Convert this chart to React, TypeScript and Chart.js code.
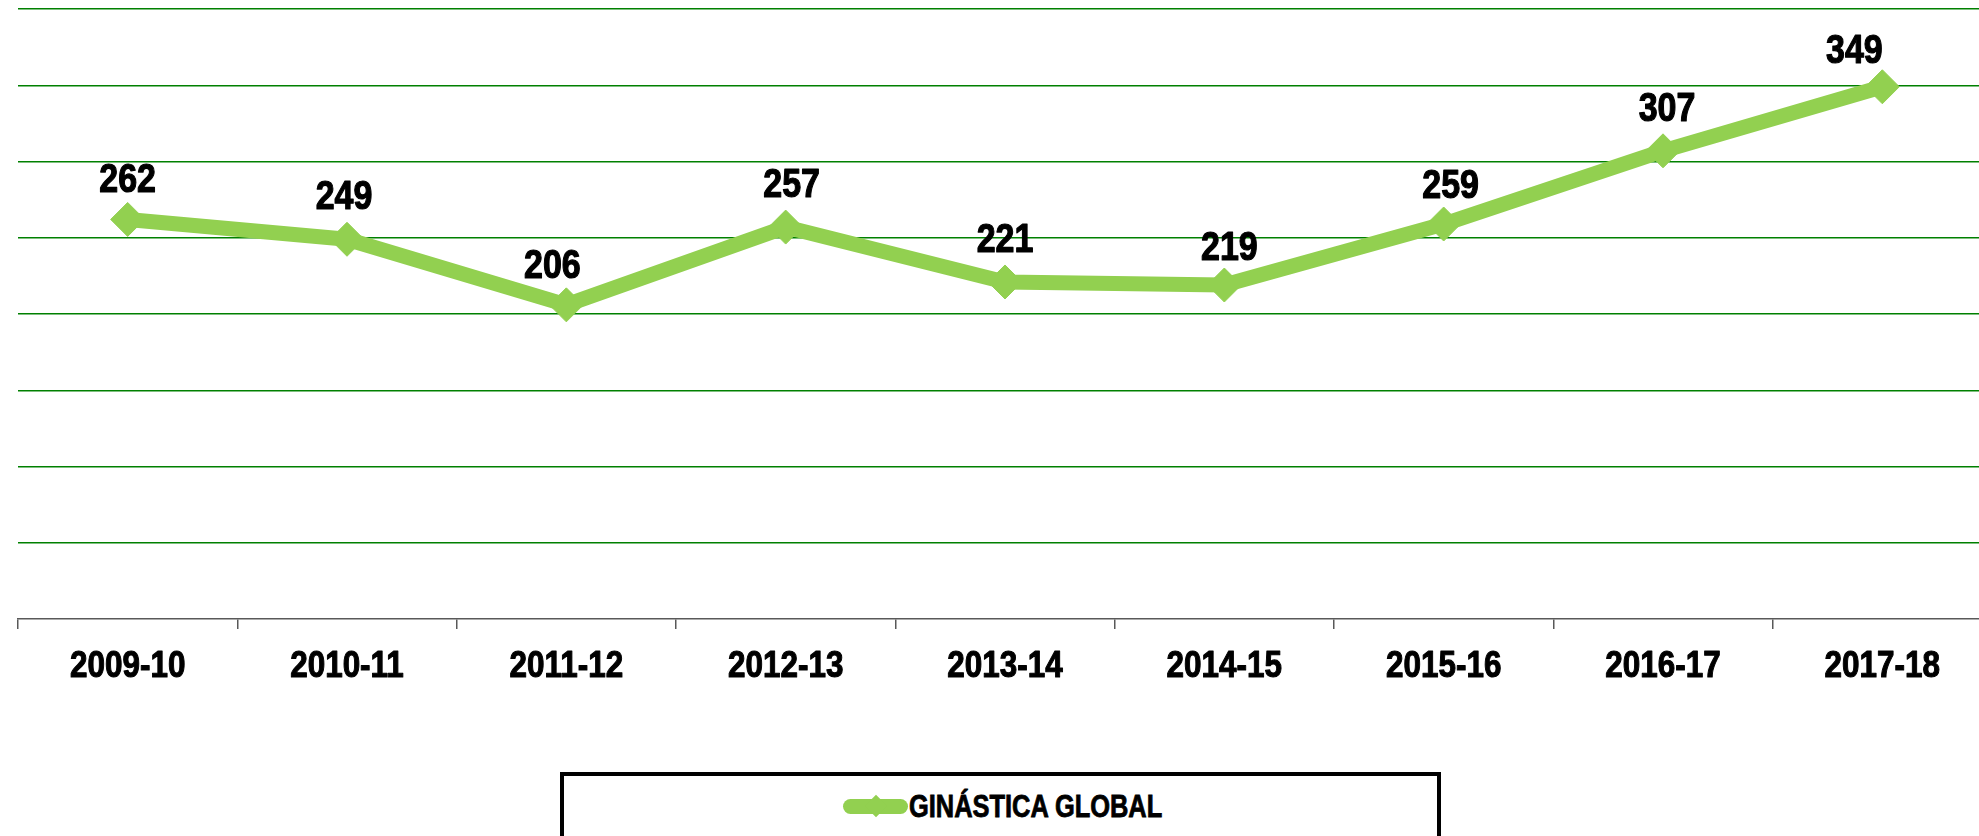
import React, { useEffect, useRef } from "react";
import { Chart, registerables } from "chart.js";

Chart.register(...registerables);

const categories = ["2009-10", "2010-11", "2011-12", "2012-13", "2013-14", "2014-15", "2015-16", "2016-17", "2017-18"];
const values = [262, 249, 206, 257, 221, 219, 259, 307, 349];
const seriesName = "GINÁSTICA GLOBAL";
const yMin = 0;
const yMax = 400;
const yStep = 50;

// small manual nudges of the value labels relative to their points (as placed in the original)
const labelDx = [0, -3, -14, 6, 0, 5, 7, 4, -28];
const labelGap = [27, 30, 27, 30, 30, 25, 26, 30, 24];

const FONT = "'Liberation Sans', Arial, sans-serif";
const LINE_COLOR = "#92D050";
const SQUEEZE = 0.85;

function drawSqueezed(ctx: CanvasRenderingContext2D, text: string, x: number, y: number) {
  ctx.save();
  ctx.translate(x, y);
  ctx.scale(SQUEEZE, 1);
  ctx.strokeText(text, 0, 0);
  ctx.fillText(text, 0, 0);
  ctx.restore();
}

const labelPlugin = {
  id: "valueLabels",
  afterDatasetsDraw(chart: any) {
    const ctx = chart.ctx;
    const meta = chart.getDatasetMeta(0);
    ctx.save();
    ctx.font = `bold 40px ${FONT}`;
    ctx.fillStyle = "#000";
    ctx.strokeStyle = "#000";
    ctx.lineWidth = 1.2;
    ctx.lineJoin = "round";
    ctx.textAlign = "center";
    ctx.textBaseline = "alphabetic";
    meta.data.forEach((pt: any, i: number) => {
      drawSqueezed(ctx, String(values[i]), pt.x + (labelDx[i] || 0), pt.y - (labelGap[i] || 27));
    });
    ctx.restore();
  },
  afterDraw(chart: any) {
    const ctx = chart.ctx;
    const xs = chart.scales.x;
    ctx.save();
    ctx.font = `bold 37px ${FONT}`;
    ctx.fillStyle = "#000";
    ctx.strokeStyle = "#000";
    ctx.lineWidth = 1.1;
    ctx.lineJoin = "round";
    ctx.textAlign = "center";
    ctx.textBaseline = "alphabetic";
    xs.ticks.forEach((t: any, i: number) => {
      const label = xs.getLabelForValue(t.value);
      drawSqueezed(ctx, String(label), xs.getPixelForTick(i), xs.bottom + 48);
    });
    ctx.restore();
  },
};

export default function App() {
  const ref = useRef<HTMLCanvasElement>(null);
  useEffect(() => {
    if (!ref.current) return;
    const chart = new Chart(ref.current, {
      type: "line",
      data: {
        labels: categories,
        datasets: [
          {
            label: seriesName,
            data: values,
            borderColor: LINE_COLOR,
            backgroundColor: LINE_COLOR,
            borderWidth: 15,
            pointStyle: "rectRot",
            pointRadius: 17,
            pointBorderWidth: 1,
            pointBackgroundColor: LINE_COLOR,
            pointBorderColor: LINE_COLOR,
            tension: 0,
            borderJoinStyle: "round",
          },
        ],
      },
      options: {
        responsive: false,
        animation: false,
        layout: { padding: { left: 16, right: 17, top: 0, bottom: 62 } },
        plugins: { legend: { display: false }, tooltip: { enabled: false } },
        scales: {
          x: {
            type: "category",
            offset: true,
            grid: {
              display: true,
              offset: true,
              drawOnChartArea: false,
              drawTicks: true,
              tickLength: 10,
              color: "#595959",
              lineWidth: 1.5,
            },
            border: { display: true, color: "#595959", width: 1.5 },
            ticks: { display: false, autoSkip: false },
          },
          y: {
            min: yMin,
            max: yMax,
            ticks: { display: false, stepSize: yStep },
            grid: {
              drawTicks: false,
              tickLength: 0,
              lineWidth: 1.5,
              color: (c: any) => (c.tick && c.tick.value === 0 ? "rgba(0,0,0,0)" : "#008000"),
            },
            border: { display: false },
          },
        },
      },
      plugins: [labelPlugin],
    });
    return () => chart.destroy();
  }, []);

  return (
    <div style={{ position: "fixed", left: 0, top: 0, width: 1979, height: 836, overflow: "hidden", background: "#fff" }}>
      <canvas ref={ref} width={2010} height={700} style={{ position: "absolute", left: 0, top: -9 }} />
      <div
        style={{
          position: "absolute",
          left: 560,
          top: 772,
          width: 881,
          height: 120,
          border: "4px solid #000",
          boxSizing: "border-box",
          background: "#fff",
        }}
      />
      <div
        style={{
          position: "absolute",
          left: 843,
          top: 799,
          width: 65,
          height: 15,
          borderRadius: 8,
          background: LINE_COLOR,
        }}
      />
      <div
        style={{
          position: "absolute",
          left: 868,
          top: 798,
          width: 16,
          height: 16,
          transform: "rotate(45deg)",
          background: LINE_COLOR,
        }}
      />
      <span
        style={{
          position: "absolute",
          left: 909,
          top: 791,
          font: `bold 31px ${FONT}`,
          lineHeight: "31px",
          color: "#000",
          whiteSpace: "nowrap",
          transform: "scaleX(0.82)",
          transformOrigin: "left center",
          display: "inline-block",
          WebkitTextStroke: "0.8px #000",
        }}
      >
        {seriesName}
      </span>
    </div>
  );
}
